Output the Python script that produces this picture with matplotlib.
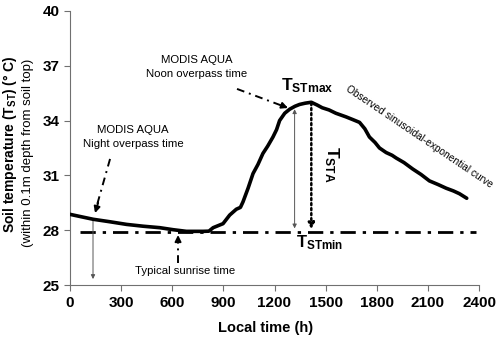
import matplotlib
matplotlib.use("Agg")
import matplotlib.pyplot as plt

plt.rcParams['font.family'] = ['Liberation Sans', 'DejaVu Sans']
plt.rcParams['mathtext.fontset'] = 'custom'
plt.rcParams['mathtext.rm'] = 'Liberation Sans'
plt.rcParams['mathtext.bf'] = 'Liberation Sans:bold'
plt.rcParams['mathtext.it'] = 'Liberation Sans:italic'

# Observed soil temperature curve (local time, degC)
time_h = [0, 60, 136, 230, 332, 430, 527, 605, 683, 781, 815, 840, 898, 937,
          976, 1000, 1015, 1045, 1074, 1103, 1132, 1160, 1191, 1212, 1230, 1260,
          1289, 1320, 1347, 1380, 1416, 1450, 1480, 1520, 1560, 1620, 1660, 1699,
          1730, 1757, 1790, 1816, 1855, 1890, 1914, 1960, 2011, 2060, 2109, 2160,
          2207, 2250, 2285, 2328]
temp_c = [28.87, 28.75, 28.6, 28.47, 28.32, 28.22, 28.14, 28.03, 27.94, 27.94, 27.95, 28.14, 28.36, 28.83,
          29.15, 29.25, 29.55, 30.3, 31.1, 31.6, 32.2, 32.6, 33.1, 33.5, 34.0, 34.4,
          34.62, 34.78, 34.88, 34.95, 35.0, 34.85, 34.7, 34.58, 34.4, 34.2, 34.05, 33.9,
          33.55, 33.1, 32.8, 32.5, 32.25, 32.1, 31.95, 31.7, 31.35, 31.05, 30.7, 30.5,
          30.3, 30.15, 30.0, 29.75]

t_min_level = 27.9
x_ticks = [0, 300, 600, 900, 1200, 1500, 1800, 2100, 2400]
y_ticks = [25, 28, 31, 34, 37, 40]

fig = plt.figure(figsize=(5.0, 3.39), dpi=100)
ax = fig.add_axes([0.14, 0.159, 0.818, 0.809])

ax.plot(time_h, temp_c, color='black', lw=2.6, solid_capstyle='round',
        solid_joinstyle='round', zorder=5)
ax.plot([58, 2382], [t_min_level, t_min_level], color='black', lw=2.0,
        linestyle=(0, (5.5, 2.5, 1.2, 2.5)), zorder=3)

ax.set_xlim(0, 2400)
ax.set_ylim(25, 40)
ax.set_xticks(x_ticks)
ax.set_yticks(y_ticks)
ax.tick_params(axis='both', colors='#707070', labelcolor='black', length=4, width=0.8,
               labelsize=11)
for lab in ax.get_xticklabels() + ax.get_yticklabels():
    lab.set_fontweight('bold')
for s in ['top', 'right']:
    ax.spines[s].set_visible(False)
for s in ['left', 'bottom']:
    ax.spines[s].set_color('#707070')
    ax.spines[s].set_linewidth(0.8)

ax.set_xlabel('Local time (h)', fontsize=10.5, fontweight='bold')
ax.xaxis.set_label_coords(0.477, -0.13)

fig.text(0.021, 0.575, r'Soil temperature (T$_{\mathbf{ST}}$) (° C)', rotation=90,
         ha='center', va='center', fontsize=10, fontweight='bold')
fig.text(0.056, 0.55, '(within 0.1m depth from soil top)', rotation=90,
         ha='center', va='center', fontsize=9.5)

dashdot = (0, (4, 2.5, 1, 2.5))

# Night overpass
ax.text(370, 33.1, 'MODIS AQUA\nNight overpass time', ha='center', va='center',
        fontsize=8.2, linespacing=1.5)
ax.plot([235, 150], [31.9, 29.1], color='black', lw=1.4, linestyle=dashdot)
ax.annotate('', xy=(147, 28.94), xytext=(165, 29.5),
            arrowprops=dict(arrowstyle='-|>', color='black', lw=1.4,
                            mutation_scale=9, shrinkA=0, shrinkB=0))
# Noon overpass
ax.text(745, 36.93, 'MODIS AQUA\nNoon overpass time', ha='center', va='center',
        fontsize=8.2, linespacing=1.5)
ax.plot([980, 1270], [35.73, 34.72], color='black', lw=1.4, linestyle=dashdot)
ax.annotate('', xy=(1279, 34.69), xytext=(1240, 34.83),
            arrowprops=dict(arrowstyle='-|>', color='black', lw=1.4,
                            mutation_scale=9, shrinkA=0, shrinkB=0))
# Sunrise
ax.text(675, 25.77, 'Typical sunrise time', ha='center', va='center', fontsize=8.2)
ax.plot([634, 634], [26.2, 27.6], color='black', lw=1.4, linestyle=dashdot)
ax.annotate('', xy=(634, 27.74), xytext=(634, 27.4),
            arrowprops=dict(arrowstyle='-|>', color='black', lw=1.4,
                            mutation_scale=9, shrinkA=0, shrinkB=0))

# thin gray arrows
ax.annotate('', xy=(135, 25.33), xytext=(135, 28.6),
            arrowprops=dict(arrowstyle='-|>', color='#555555', lw=0.7,
                            mutation_scale=6, shrinkA=0, shrinkB=0))
ax.annotate('', xy=(1318, 28.1), xytext=(1318, 34.62),
            arrowprops=dict(arrowstyle='<|-|>', color='#555555', lw=0.7,
                            mutation_scale=6, shrinkA=0, shrinkB=0))
# dotted T_STA arrow
ax.annotate('', xy=(1416, 28.05), xytext=(1416, 34.95),
            arrowprops=dict(arrowstyle='-|>', color='black', lw=1.8, linestyle=(0, (0.8, 1.2)),
                            mutation_scale=9, shrinkA=0, shrinkB=0))

ax.text(1390, 35.67, r'$\mathbf{T_{STmax}}$', ha='center', va='baseline', fontsize=12.5)
ax.text(1462, 27.08, r'$\mathbf{T_{STmin}}$', ha='center', va='baseline', fontsize=12)
ax.text(1535, 31.6, r'$\mathbf{T_{STA}}$', ha='center', va='center', fontsize=12.5,
        rotation=270)

ax.text(2050, 33.1, 'Observed sinusoidal-exponential curve', ha='center', va='center',
        fontsize=7.3, rotation=-34, rotation_mode='anchor')

fig.savefig('out.png', dpi=100)
